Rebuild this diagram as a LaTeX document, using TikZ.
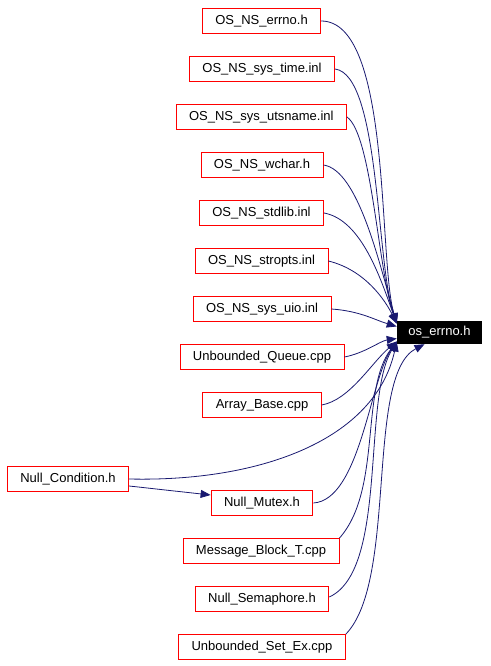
\documentclass[tikz,border=0pt]{standalone}
\usepackage{fontspec}
\setmainfont{Liberation Sans}
\usepackage{tikz}
\usetikzlibrary{arrows.meta,positioning}
\definecolor{dxred}{RGB}{255, 0, 0}
\definecolor{dxblue}{RGB}{25, 25, 112}

\begin{document}
\begin{tikzpicture}[x=1pt, y=-1pt,
  file/.style={draw=dxred, fill=white, line width=0.9pt, font=\fontsize{13}{15}\selectfont, inner xsep=13pt, inner ysep=0pt, minimum height=25pt},
  focus/.style={fill=black, text=white, font=\fontsize{13}{15}\selectfont, inner xsep=11.5pt, inner ysep=0pt, minimum height=23pt},
  incl/.style={draw=dxblue, line width=0.8pt, -{Triangle[length=10pt, width=8pt]}}]
\useasboundingbox (0,0) rectangle (490,666);
% included header
\node[focus] (oserr) at (439.5,332.5) {os\_errno.h};
% files that include it
\node[file] (nserrno)  at (261.5,21)  {OS\_NS\_errno.h};
\node[file] (nstime)   at (262,69)    {OS\_NS\_sys\_time.inl};
\node[file] (nsuts)    at (261.3,117) {OS\_NS\_sys\_utsname.inl};
\node[file] (nswchar)  at (262,165)   {OS\_NS\_wchar.h};
\node[file] (nsstdlib) at (261.5,213) {OS\_NS\_stdlib.inl};
\node[file] (nsstrop)  at (261.5,261) {OS\_NS\_stropts.inl};
\node[file] (nsuio)    at (262,309)   {OS\_NS\_sys\_uio.inl};
\node[file] (ubqueue)  at (262,357)   {Unbounded\_Queue.cpp};
\node[file] (arrbase)  at (262,405)   {Array\_Base.cpp};
\node[file] (nullcond) at (68,479)    {Null\_Condition.h};
\node[file] (nullmtx)  at (262,503)   {Null\_Mutex.h};
\node[file] (msgblk)   at (261,551)   {Message\_Block\_T.cpp};
\node[file] (nullsem)  at (262,599)   {Null\_Semaphore.h};
\node[file] (ubset)    at (262,647)   {Unbounded\_Set\_Ex.cpp};
% edges from above
\draw[incl] (nserrno.east)  .. controls (392,21)  and (378,260) .. ([yshift=9pt]oserr.west);
\draw[incl] (nstime.east)   .. controls (380,75)  and (376,262) .. ([yshift=9pt]oserr.west);
\draw[incl] (nsuts.east)    .. controls (372,135) and (378,270) .. ([yshift=9pt]oserr.west);
\draw[incl] (nswchar.east)  .. controls (358,170) and (379,262) .. ([yshift=9pt]oserr.west);
\draw[incl] (nsstdlib.east) .. controls (362,220) and (381,280) .. ([yshift=9pt]oserr.west);
\draw[incl] (nsstrop.east)  .. controls (365,270) and (385,300) .. ([yshift=9pt]oserr.west);
\draw[incl] (nsuio.east)    .. controls (360,311) and (375,320) .. ([yshift=6pt]oserr.west);
\draw[incl] (ubqueue.east)  .. controls (365,353) and (380,341) .. ([yshift=-6pt]oserr.west);
% edges from below
\draw[incl] (arrbase.east)  .. controls (350,400) and (372,362) .. ([yshift=-9pt]oserr.west);
\draw[incl] (nullcond.east) .. controls (260,482) and (375,440) .. ([yshift=-9pt]oserr.west);
\draw[incl] ([yshift=-7pt]nullcond.east) -- ([yshift=8pt]nullmtx.west);
\draw[incl] (nullmtx.east)  .. controls (360,500) and (370,380) .. ([yshift=-9pt]oserr.west);
\draw[incl] (msgblk.north east) .. controls (382,490) and (360,390) .. ([yshift=-9pt]oserr.west);
\draw[incl] ([yshift=2pt]nullsem.east) .. controls (388,570) and (362,400) .. ([yshift=-9pt]oserr.west);
\draw[incl] (ubset.north east) .. controls (398,580) and (365,375) .. ([xshift=-15pt]oserr.south);
\end{tikzpicture}
\end{document}
